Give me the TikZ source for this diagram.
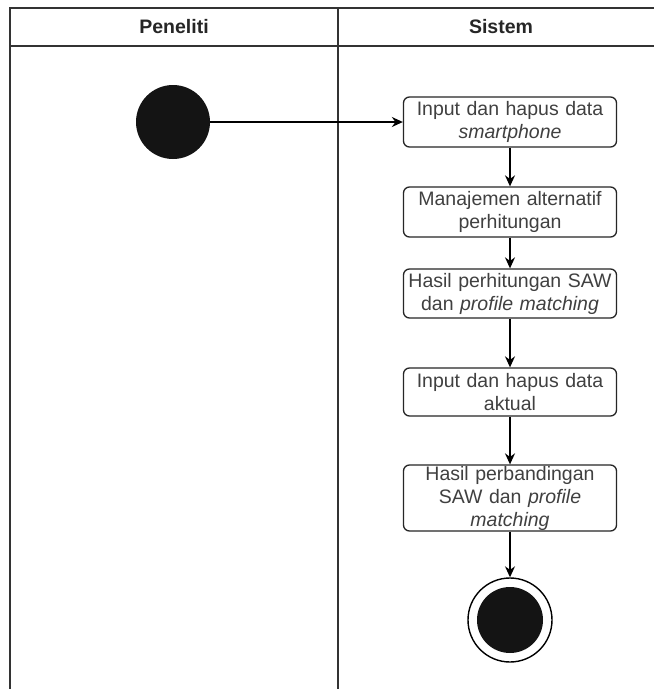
\documentclass[tikz,border=0pt]{standalone}
\usepackage{fontspec}
\setmainfont{Liberation Sans}
\usetikzlibrary{arrows.meta}
\begin{document}
\begin{tikzpicture}[x=1pt,y=-1pt,
  lane/.style={draw=black!80,line width=1.6pt},
  lanehead/.style={font=\fontsize{19.5}{23}\selectfont\bfseries,text=black!85,anchor=center},
  act/.style={draw=black!85,line width=1.3pt,rounded corners=6pt,fill=white,
    minimum width=213pt,text width=205pt,align=center,
    font=\fontsize{19.5}{23}\selectfont,text=black!75,inner sep=0pt},
  flow/.style={draw=black,line width=1.4pt,-{Stealth[length=11pt,width=10pt]}},
  startdot/.style={circle,fill=black!92,minimum size=74pt,inner sep=0pt},
  enddot/.style={circle,draw=black,line width=1.4pt,fill=white,minimum size=84pt,inner sep=0pt}
]
\useasboundingbox (0,0) rectangle (654,689);
\fill[white] (0,0) rectangle (654,689);

% swimlane frame
\draw[lane] (10,689) -- (10,8) -- (654,8);
\draw[lane] (10,46) -- (654,46);
\draw[lane] (338,8) -- (338,689);
\node[lanehead] (hp) at (174,27) {Peneliti};
\node[lanehead] (hs) at (501,27) {Sistem};

% activities
\node[startdot] (start) at (173,122) {};
\node[act,minimum height=50pt] (a1) at (510,122) {Input dan hapus data\\\textit{smartphone}};
\node[act,minimum height=50pt] (a2) at (510,212) {Manajemen alternatif\\perhitungan};
\node[act,minimum height=49pt] (a3) at (510,293.5) {Hasil perhitungan SAW\\dan \textit{profile matching}};
\node[act,minimum height=48pt] (a4) at (510,392) {Input dan hapus data\\aktual};
\node[act,minimum height=66pt] (a5) at (510,498) {Hasil perbandingan\\SAW dan \textit{profile}\\\textit{matching}};
\node[enddot] (end) at (510,620) {};
\fill[black!92] (end.center) circle (33pt);

% control flow
\draw[flow] (start) -- (a1);
\draw[flow] (a1) -- (a2);
\draw[flow] (a2) -- (a3);
\draw[flow] (a3) -- (a4);
\draw[flow] (a4) -- (a5);
\draw[flow] (a5) -- (end);
\end{tikzpicture}
\end{document}
